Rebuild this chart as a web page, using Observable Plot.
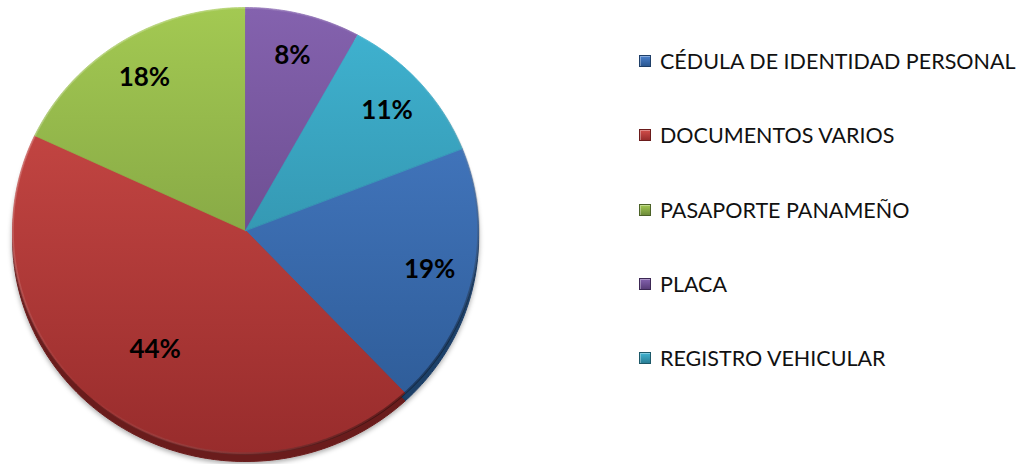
<!DOCTYPE html>
<html>
<head>
<meta charset="utf-8">
<script src="https://cdn.jsdelivr.net/npm/d3@7"></script>
<script src="https://cdn.jsdelivr.net/npm/@observablehq/plot@0.6"></script>
<style>
  body { margin: 0; background: #fff; }
  #wrap { position: relative; width: 1026px; height: 464px; overflow: hidden; }
  #chart { position: absolute; left: 0; top: 0; }
  #legend { position: absolute; left: 639px; top: 24px; font-family: Lato, "Open Sans", sans-serif; font-size: 21.5px; color: #111; }
  .row { height: 74.3px; display: flex; align-items: center; white-space: nowrap; }
  .sw { width: 12px; height: 12px; margin-right: 9px; box-sizing: border-box; }
</style>
</head>
<body>
<div id="wrap"><div id="chart"></div><div id="legend"></div></div>
<script>
// ---- data ----
const categories = ["CÉDULA DE IDENTIDAD PERSONAL", "DOCUMENTOS VARIOS", "PASAPORTE PANAMEÑO", "PLACA", "REGISTRO VEHICULAR"];
const values = [19, 44, 18, 8, 11];
const labels = ["19%", "44%", "18%", "8%", "11%"];
const colorsTop = ["#4A80CC", "#D24E4A", "#A3C952", "#8462AE", "#40B4D2"];
const colorsBottom = ["#2B5892", "#982C2C", "#6E8C3A", "#583C78", "#2A7E95"];
const colorsEdge = ["#1F3F68", "#6A1B1B", "#4C6228", "#3C2854", "#1D5868"];
const firstSliceAngle = 68.4; // degrees, clockwise from 12 o'clock

// ---- geometry built from the values ----
const total = d3.sum(values);
const points = [];
const labelData = [];
let a = firstSliceAngle * Math.PI / 180;
values.forEach((v, i) => {
  const span = v / total * 2 * Math.PI;
  const a0 = a, a1 = a + span;
  const n = Math.max(2, Math.ceil(span * 180 / Math.PI));
  points.push({ i, name: categories[i], x: 0, y: 0 });
  for (let k = 0; k <= n; k++) {
    const t = a0 + (a1 - a0) * k / n;
    points.push({ i, name: categories[i], x: Math.sin(t), y: Math.cos(t) });
  }
  const mid = (a0 + a1) / 2;
  const r = v / total > 0.3 ? 0.66 : 0.81;
  labelData.push({ text: labels[i], x: r * Math.sin(mid), y: r * Math.cos(mid) });
  a = a1;
});
const rim = d3.range(0, 360, 2).map(d => ({ k: "rim", x: Math.sin(d * Math.PI / 180), y: Math.cos(d * Math.PI / 180) }));

const chart = Plot.plot({
  width: 500,
  height: 464,
  margin: 0,
  x: { domain: [-1, 1], range: [12, 478], axis: null },
  y: { domain: [-1, 1], range: [453, 7], axis: null },
  color: { type: "identity" },
  marks: [
    Plot.line(points, { x: "x", y: "y", z: "name", fill: d => colorsEdge[d.i], stroke: d => colorsEdge[d.i], strokeWidth: 1, curve: "linear-closed", dy: 8 }),
    Plot.line(points, { x: "x", y: "y", z: "name", fill: d => colorsTop[d.i], stroke: d => colorsTop[d.i], strokeWidth: 0.8, curve: "linear-closed" }),
    Plot.line(rim, { x: "x", y: "y", z: "k", stroke: d => "#000000", strokeWidth: 2.5, curve: "linear-closed" }),
    Plot.text(labelData, { x: "x", y: "y", text: "text", fontSize: 26, fontWeight: "bold", fontFamily: "Lato, 'Open Sans', sans-serif", fill: "#000" })
  ]
});

const svg = d3.select(chart);
const ys = chart.scale("y");
const xs = chart.scale("x");
const defs = svg.insert("defs", ":first-child");
categories.forEach((c, i) => {
  const g = defs.append("linearGradient").attr("id", `face${i}`).attr("gradientUnits", "userSpaceOnUse")
    .attr("x1", 0).attr("x2", 0).attr("y1", ys.apply(1)).attr("y2", ys.apply(-1));
  g.append("stop").attr("offset", 0).attr("stop-color", colorsTop[i]);
  g.append("stop").attr("offset", 1).attr("stop-color", colorsBottom[i]);
});
const rg = defs.append("linearGradient").attr("id", "rimgrad").attr("gradientUnits", "userSpaceOnUse")
  .attr("x1", xs.apply(-0.7)).attr("y1", ys.apply(0.7)).attr("x2", xs.apply(0.7)).attr("y2", ys.apply(-0.7));
rg.append("stop").attr("offset", 0).attr("stop-color", "#fff").attr("stop-opacity", 0.22);
rg.append("stop").attr("offset", 0.5).attr("stop-color", "#fff").attr("stop-opacity", 0);
rg.append("stop").attr("offset", 1).attr("stop-color", "#000").attr("stop-opacity", 0.35);
const f = defs.append("filter").attr("id", "shadow").attr("x", "-10%").attr("y", "-10%").attr("width", "120%").attr("height", "125%");
f.append("feDropShadow").attr("dx", 0).attr("dy", 2).attr("stdDeviation", 2.5).attr("flood-color", "#000").attr("flood-opacity", 0.35);

// restyle the paths Plot drew: gradient faces, shadowed edge, shaded rim
const topIndex = new Map(colorsTop.map((c, i) => [c.toLowerCase(), i]));
const edgeSet = new Set(colorsEdge.map(c => c.toLowerCase()));
svg.selectAll("path").each(function () {
  const p = d3.select(this);
  const fill = (p.attr("fill") || "").toLowerCase();
  const stroke = (p.attr("stroke") || "").toLowerCase();
  if (topIndex.has(fill)) {
    const id = `url(#face${topIndex.get(fill)})`;
    p.attr("fill", id).attr("stroke", id);
  } else if (edgeSet.has(fill)) {
    p.attr("filter", "url(#shadow)");
  } else if (stroke === "#000000") {
    p.attr("stroke", "url(#rimgrad)").attr("fill", "none");
  }
});

document.getElementById("chart").appendChild(chart);

// ---- legend ----
const legend = d3.select("#legend");
categories.forEach((c, i) => {
  const row = legend.append("div").attr("class", "row");
  row.append("div").attr("class", "sw")
    .style("background", `linear-gradient(180deg, ${colorsTop[i]}, ${colorsBottom[i]})`)
    .style("border", `1px solid ${colorsEdge[i]}`)
    .style("box-shadow", "inset 1px 1px 0 rgba(255,255,255,0.35)");
  row.append("span").text(c);
});
</script>
</body>
</html>
